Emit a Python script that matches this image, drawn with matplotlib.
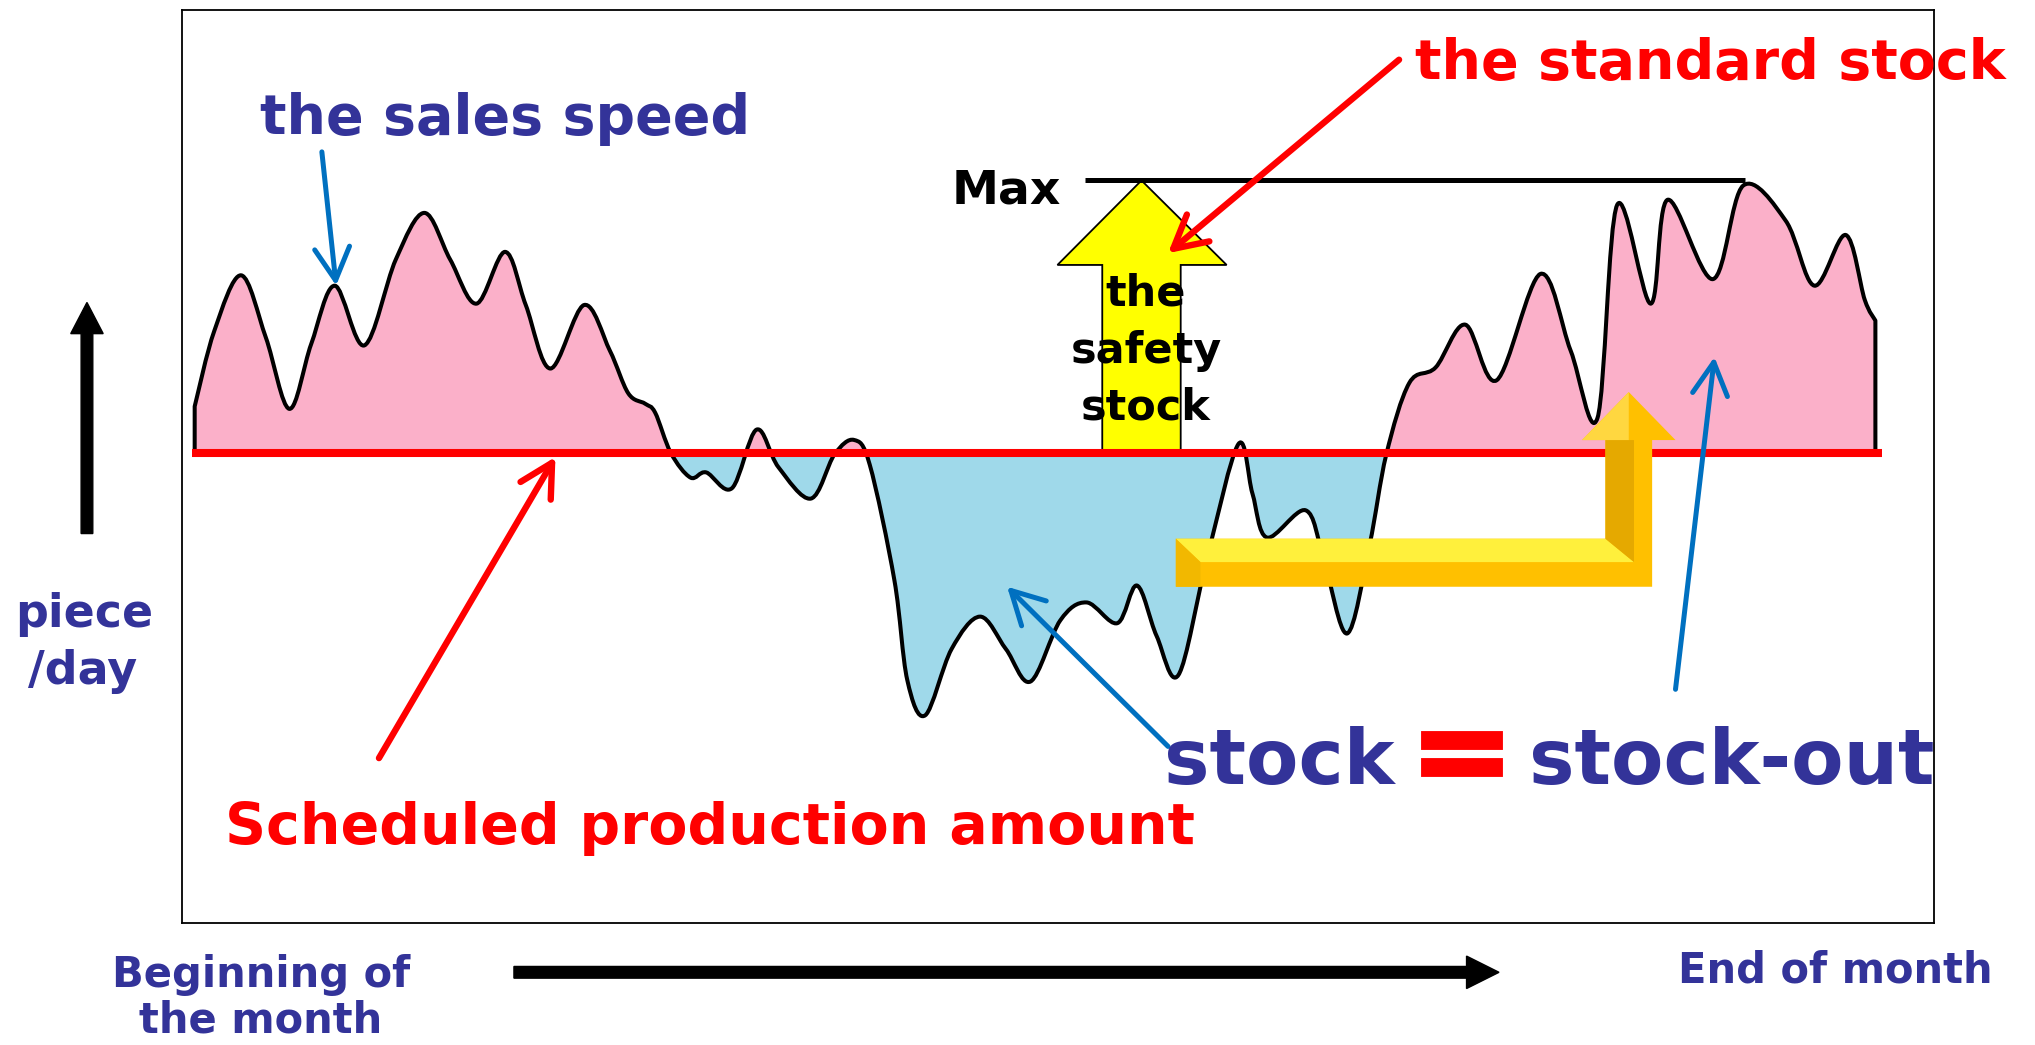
import numpy as np
import matplotlib
matplotlib.use("Agg")
import matplotlib.pyplot as plt
from matplotlib.path import Path
from matplotlib.patches import PathPatch, Polygon, Rectangle, FancyArrow
import matplotlib.patheffects as pe

# sales speed over the month (day 0 = beginning, day 30 = end), pieces/day
days = [0.00, 0.35, 0.83, 1.27, 1.69, 2.08, 2.50, 3.03, 3.59, 4.10,
        4.56, 5.03, 5.54, 5.91, 6.35, 6.95, 7.41, 7.74, 8.04, 8.22,
        8.50, 8.85, 9.13, 9.59, 10.03, 10.42, 11.00, 11.42, 11.77, 12.05,
        12.49, 12.72, 13.04, 13.51, 14.02, 14.48, 14.92, 15.45, 15.92, 16.47,
        16.82, 17.17, 17.56, 18.07, 18.63, 18.88, 19.14, 19.83, 20.15, 20.57,
        20.97, 21.27, 21.68, 22.15, 22.68, 23.24, 24.02, 24.56, 25.04, 25.39,
        25.99, 26.29, 27.10, 27.64, 28.40, 28.91, 29.47, 29.81, 30.00]
speed = [117.1, 144.8, 165.2, 142.4, 116.2, 140.0, 161.4, 139.5, 171.0, 188.1,
         171.0, 154.8, 173.8, 154.3, 131.0, 154.3, 137.6, 121.9, 118.1, 114.8,
         100.0, 91.0, 92.9, 87.1, 108.6, 94.8, 83.3, 99.5, 104.8, 95.7,
         53.3, 16.7, 3.8, 28.1, 40.0, 28.1, 16.2, 38.6, 45.2, 37.6,
         51.4, 32.9, 18.6, 61.4, 103.3, 85.2, 69.0, 79.0, 61.4, 33.8,
         66.2, 99.5, 125.7, 131.4, 147.1, 126.7, 165.7, 137.6, 112.9, 191.0,
         154.8, 192.9, 163.8, 198.1, 185.2, 161.4, 180.0, 156.2, 148.6]

PLAN = 100        # scheduled production amount
MAX_STOCK = 200   # the standard stock (Max)
MONTH_START, MONTH_END = 0, 30
SAFETY_DAY = 16.9

NAVY = "#333399"
RED = "#ff0000"
BLUE = "#0070c0"
PINK = "#fbb0c9"
SKY = "#9fd9ea"
FONT = "DejaVu Sans"


def smooth_path(xs, ys):
    # Catmull-Rom through the points, written as cubic bezier segments
    pts = np.column_stack([xs, ys]).astype(float)
    ext = np.vstack([pts[0], pts, pts[-1]])
    verts = [pts[0]]
    codes = [Path.MOVETO]
    for i in range(len(pts) - 1):
        p0, p1, p2, p3 = ext[i], ext[i + 1], ext[i + 2], ext[i + 3]
        verts += [p1 + (p2 - p0) / 6, p2 - (p3 - p1) / 6, p2]
        codes += [Path.CURVE4] * 3
    return verts, codes


fig = plt.figure(figsize=(20.35, 10.45), dpi=100)

# main frame with the sales curve
ax = fig.add_axes([140 / 1568, 1 - 711 / 805, 1350 / 1568, 703 / 805], zorder=1)
ax.set_xlim(-0.2317, 31.042)
ax.set_ylim(-72.38, 262.38)
ax.set_xticks([])
ax.set_yticks([])
for s in ax.spines.values():
    s.set_linewidth(1.3)
    s.set_color("black")

verts, codes = smooth_path(days, speed)
fill_path = Path(verts + [(MONTH_END, PLAN), (MONTH_START, PLAN), (MONTH_START, PLAN)],
                 codes + [Path.LINETO, Path.LINETO, Path.CLOSEPOLY])
above = Rectangle((-5, PLAN), 50, 500, transform=ax.transData)
below = Rectangle((-5, PLAN - 500), 50, 500, transform=ax.transData)
pink = PathPatch(fill_path, facecolor=PINK, edgecolor="none", zorder=1)
sky = PathPatch(fill_path, facecolor=SKY, edgecolor="none", zorder=1)
ax.add_patch(pink)
ax.add_patch(sky)
pink.set_clip_path(above)
sky.set_clip_path(below)

outline = Path([(MONTH_START, PLAN)] + verts + [(MONTH_END, PLAN)],
               [Path.MOVETO, Path.LINETO] + codes[1:] + [Path.LINETO])
ax.add_patch(PathPatch(outline, facecolor="none", edgecolor="black", lw=2.9,
                       joinstyle="round", zorder=3))

# the safety stock arrow from plan up to max
head_base = PLAN + 0.69 * (MAX_STOCK - PLAN)
safety = [(SAFETY_DAY - 0.70, PLAN), (SAFETY_DAY + 0.70, PLAN), (SAFETY_DAY + 0.70, head_base),
          (SAFETY_DAY + 1.52, head_base), (SAFETY_DAY, MAX_STOCK), (SAFETY_DAY - 1.50, head_base),
          (SAFETY_DAY - 0.70, head_base)]
ax.add_patch(Polygon(safety, closed=True, facecolor="#ffff00", edgecolor="black", lw=1.3, zorder=4))

ax.hlines(PLAN, MONTH_START - 0.05, MONTH_END + 0.12, color=RED, lw=5.8, zorder=5)
ax.hlines(MAX_STOCK, 15.89, 27.68, color="black", lw=3.6, zorder=5)

# overlay for labels and arrows, in picture units
ov = fig.add_axes([0, 0, 1, 1], zorder=5)
ov.set_xlim(0, 1568)
ov.set_ylim(805, 0)
ov.axis("off")


def pointer(tail, tip, color, lw):
    ov.annotate("", xy=tip, xytext=tail,
                arrowprops=dict(arrowstyle="->, head_length=1.3, head_width=0.7",
                                color=color, lw=lw, mutation_scale=18,
                                shrinkA=0, shrinkB=0))


# gold L-shaped arrow
gold = [(906, 415), (1237, 415), (1237, 339), (1219, 339), (1255, 302), (1291, 339),
        (1273, 339), (1273, 452), (906, 452)]
ov.add_patch(Polygon(gold, closed=True, facecolor="#ffc000", edgecolor="none"))
ov.add_patch(Polygon([(906, 415), (1237, 415), (1259, 433), (925, 433)], closed=True,
                     facecolor="#fff03c", edgecolor="none"))
ov.add_patch(Polygon([(906, 415), (925, 433), (925, 452), (906, 452)], closed=True,
                     facecolor="#f2b800", edgecolor="none"))
ov.add_patch(Polygon([(1237, 339), (1259, 339), (1259, 433), (1237, 415)], closed=True,
                     facecolor="#e5a900", edgecolor="none"))
ov.add_patch(Polygon([(1219, 339), (1255, 302), (1255, 339)], closed=True,
                     facecolor="#ffd740", edgecolor="none"))

# axis arrows outside the frame
ov.add_patch(FancyArrow(67, 411, 0, 233 - 411, width=9, head_width=25, head_length=24,
                        length_includes_head=True, color="black"))
ov.add_patch(FancyArrow(396, 749, 1155 - 396, 0, width=9, head_width=25, head_length=25,
                        length_includes_head=True, color="black"))

pointer((248, 117), (259, 220), BLUE, 3.6)
pointer((900, 575), (776, 452), BLUE, 3.6)
pointer((1291, 531), (1321, 275), BLUE, 3.6)
pointer((1078, 46), (900, 195), RED, 4.6)
pointer((292, 584), (428, 352), RED, 4.6)

bold = dict(family=FONT, fontweight="bold", ha="center", va="baseline")
ov.text(389, 103, "the sales speed", color=NAVY, fontsize=40, **bold)
ov.text(1318, 61, "the standard stock", color=RED, fontsize=40, **bold)
ov.text(775, 157, "Max", color="black", fontsize=34, **bold)
ov.text(883, 235, "the", color="black", fontsize=31, **bold)
ov.text(883, 280, "safety", color="black", fontsize=31, **bold)
ov.text(883, 323, "stock", color="black", fontsize=31, **bold)
ov.text(547, 650, "Scheduled production amount", color=RED, fontsize=41, **bold)
ov.text(986, 604, "stock", color=NAVY, fontsize=55, **bold)
ov.text(1334, 604, "stock-out", color=NAVY, fontsize=55, **bold)
ov.text(1126, 584, "=", color=RED, fontsize=88, family=FONT, fontweight="bold",
        ha="center", va="center",
        path_effects=[pe.withStroke(linewidth=3.5, foreground=RED, joinstyle="miter")])
ov.text(65, 483, "piece", color=NAVY, fontsize=33, **bold)
ov.text(64, 527, "/day", color=NAVY, fontsize=33, **bold)
ov.text(201, 760, "Beginning of", color=NAVY, fontsize=30, **bold)
ov.text(201, 795, "the month", color=NAVY, fontsize=30, **bold)
ov.text(1414, 757, "End of month", color=NAVY, fontsize=30, **bold)

fig.savefig("out.png", dpi=100)
